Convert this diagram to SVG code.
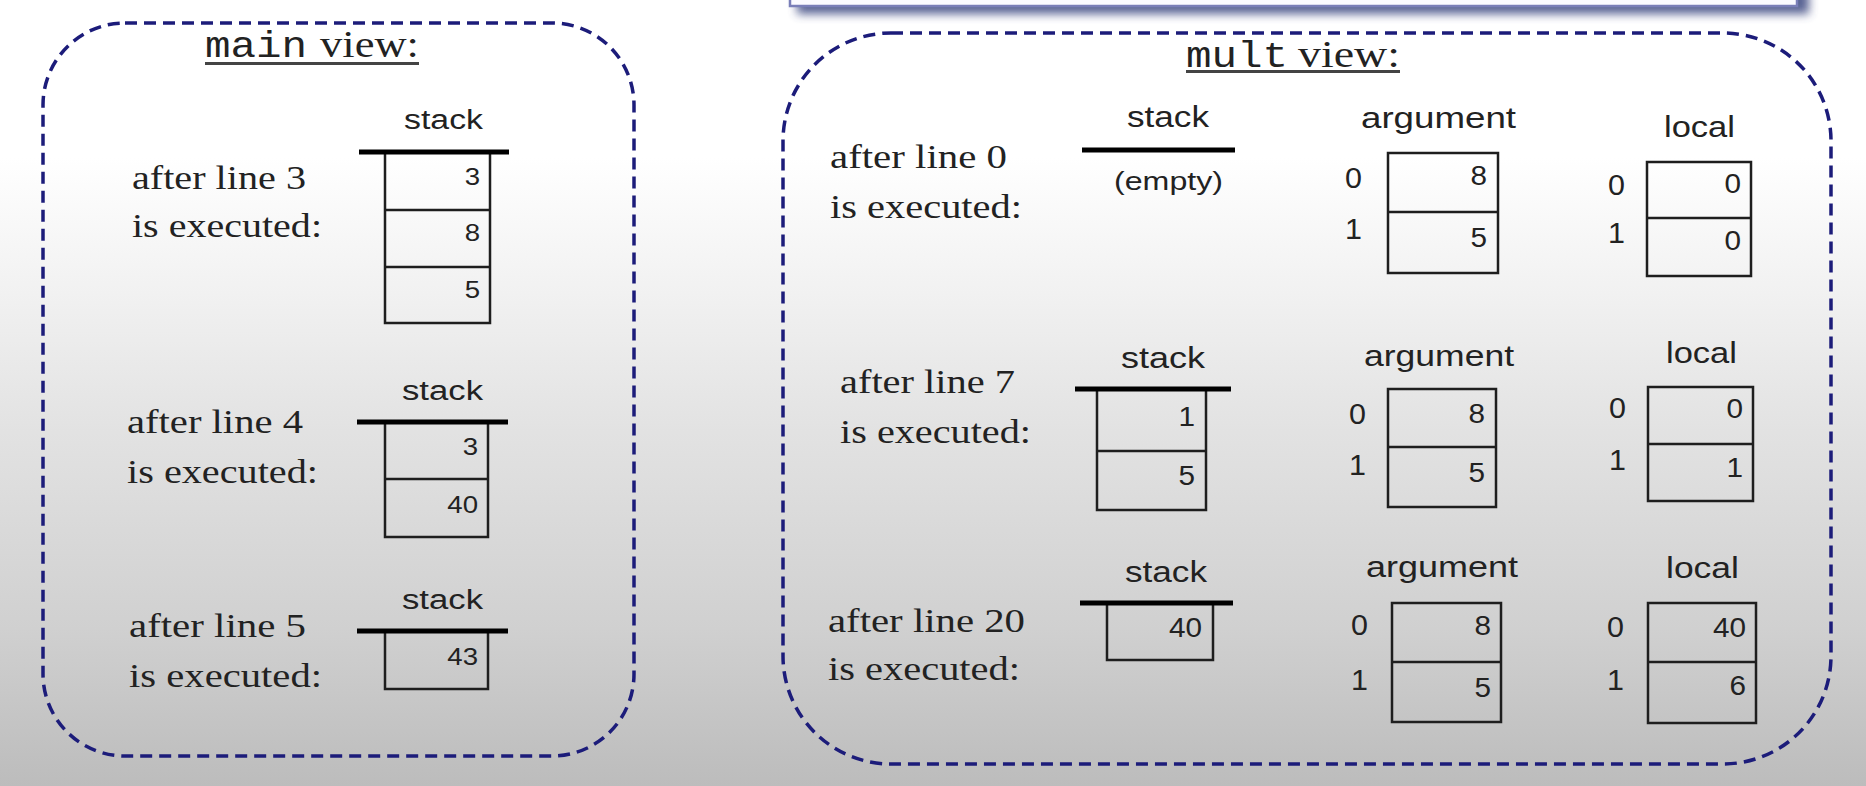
<svg xmlns="http://www.w3.org/2000/svg" width="1866" height="786" viewBox="0 0 1866 786">
<defs>
<linearGradient id="bg" x1="0" y1="0" x2="0" y2="1">
<stop offset="0" stop-color="#ffffff"/>
<stop offset="0.2" stop-color="#ffffff"/>
<stop offset="0.35" stop-color="#f3f3f3"/>
<stop offset="0.55" stop-color="#e2e2e2"/>
<stop offset="0.8" stop-color="#d0d0d0"/>
<stop offset="1" stop-color="#bcbcbc"/>
</linearGradient>
<filter id="blur" x="-5%" y="-100%" width="110%" height="300%">
<feGaussianBlur stdDeviation="5"/>
</filter>
<style>
.sf{font-family:"Liberation Serif","Times New Roman",serif;font-size:34px;fill:#222}
.ss{font-family:"Liberation Sans",Arial,sans-serif;fill:#222}
.lm{font-size:27px}
.lx{font-size:29px}
.dm{font-family:"Liberation Sans",Arial,sans-serif;font-size:24px;fill:#222;text-anchor:end}
.dx{font-family:"Liberation Sans",Arial,sans-serif;font-size:27px;fill:#222;text-anchor:end}
.ix{font-family:"Liberation Sans",Arial,sans-serif;font-size:29px;fill:#222}
.mono{font-family:"Liberation Mono","DejaVu Sans Mono",monospace;font-size:36px;fill:#222}
.ttl{font-family:"Liberation Serif","Times New Roman",serif;font-size:37px;fill:#222}
.cell{fill:none;stroke:#1e1e1e;stroke-width:2.5}
.bar{stroke:#000;stroke-width:5}
.ul{stroke:#444;stroke-width:3}
.frame{fill:none;stroke:#1c1c7a;stroke-width:3.5;stroke-dasharray:12 7}
</style>
</defs>
<rect x="0" y="0" width="1866" height="786" fill="url(#bg)"/>

<g id="header">
<rect x="797" y="-30" width="1012" height="44" fill="#3c4a82" opacity="0.85" filter="url(#blur)"/>
<rect x="790" y="-30" width="1007" height="36" fill="#fbfbff" stroke="#7a7fb8" stroke-width="2.5"/>
</g>

<g id="main-view">
<rect class="frame" x="43" y="23" width="591" height="733" rx="82" ry="82"/>
<text class="mono" x="205" y="57" textLength="102" lengthAdjust="spacingAndGlyphs">main</text>
<text class="ttl" x="320" y="57" textLength="99" lengthAdjust="spacingAndGlyphs">view:</text>
<line class="ul" x1="205" y1="63.5" x2="419" y2="63.5"/>
</g>

<g id="main-after-line-3">
<text class="sf" x="132" y="189" textLength="174" lengthAdjust="spacingAndGlyphs">after line 3</text>
<text class="sf" x="132" y="237" textLength="190" lengthAdjust="spacingAndGlyphs">is executed:</text>
<text class="ss lm" x="404" y="129" textLength="79" lengthAdjust="spacingAndGlyphs">stack</text>
<rect class="cell" x="385" y="152" width="105" height="171"/>
<line class="cell" x1="385" y1="210" x2="490" y2="210"/>
<line class="cell" x1="385" y1="267" x2="490" y2="267"/>
<line class="bar" x1="359" y1="152" x2="509" y2="152"/>
<text class="dm" transform="translate(480,185) scale(1.15,1)">3</text>
<text class="dm" transform="translate(480,241) scale(1.15,1)">8</text>
<text class="dm" transform="translate(480,298) scale(1.15,1)">5</text>
</g>

<g id="main-after-line-4">
<text class="sf" x="127" y="433" textLength="176" lengthAdjust="spacingAndGlyphs">after line 4</text>
<text class="sf" x="127" y="483" textLength="191" lengthAdjust="spacingAndGlyphs">is executed:</text>
<text class="ss lm" x="402" y="400" textLength="81" lengthAdjust="spacingAndGlyphs">stack</text>
<rect class="cell" x="385" y="422" width="103" height="115"/>
<line class="cell" x1="385" y1="479" x2="488" y2="479"/>
<line class="bar" x1="357" y1="422" x2="508" y2="422"/>
<text class="dm" transform="translate(478,455) scale(1.15,1)">3</text>
<text class="dm" transform="translate(478,513) scale(1.15,1)">40</text>
</g>

<g id="main-after-line-5">
<text class="sf" x="129" y="637" textLength="177" lengthAdjust="spacingAndGlyphs">after line 5</text>
<text class="sf" x="129" y="687" textLength="193" lengthAdjust="spacingAndGlyphs">is executed:</text>
<text class="ss lm" x="402" y="609" textLength="81" lengthAdjust="spacingAndGlyphs">stack</text>
<rect class="cell" x="385" y="631" width="103" height="58"/>
<line class="bar" x1="357" y1="631" x2="508" y2="631"/>
<text class="dm" transform="translate(478,665) scale(1.15,1)">43</text>
</g>

<g id="mult-view">
<rect class="frame" x="783" y="33" width="1048" height="731" rx="108" ry="108"/>
<text class="mono" x="1186" y="67" textLength="102" lengthAdjust="spacingAndGlyphs">mult</text>
<text class="ttl" x="1298" y="67" textLength="102" lengthAdjust="spacingAndGlyphs">view:</text>
<line class="ul" x1="1186" y1="71.5" x2="1400" y2="71.5"/>
</g>

<g id="mult-after-line-0">
<text class="sf" x="830" y="168" textLength="177" lengthAdjust="spacingAndGlyphs">after line 0</text>
<text class="sf" x="830" y="218" textLength="192" lengthAdjust="spacingAndGlyphs">is executed:</text>
<text class="ss lx" x="1127" y="127" textLength="82" lengthAdjust="spacingAndGlyphs">stack</text>
<line class="bar" x1="1082" y1="150" x2="1235" y2="150"/>
<text class="ss" style="font-size:25px" x="1114" y="190" textLength="109" lengthAdjust="spacingAndGlyphs">(empty)</text>
<text class="ss lx" x="1361" y="128" textLength="155" lengthAdjust="spacingAndGlyphs">argument</text>
<rect class="cell" x="1388" y="153" width="110" height="120"/>
<line class="cell" x1="1388" y1="212" x2="1498" y2="212"/>
<text class="dx" transform="translate(1487,185) scale(1.1,1)">8</text>
<text class="dx" transform="translate(1487,247) scale(1.1,1)">5</text>
<text class="ix" transform="translate(1345,188) scale(1.05,1)">0</text>
<text class="ix" transform="translate(1345,239) scale(1.05,1)">1</text>
<text class="ss lx" x="1664" y="137" textLength="71" lengthAdjust="spacingAndGlyphs">local</text>
<rect class="cell" x="1647" y="162" width="104" height="114"/>
<line class="cell" x1="1647" y1="218" x2="1751" y2="218"/>
<text class="dx" transform="translate(1741,193) scale(1.1,1)">0</text>
<text class="dx" transform="translate(1741,250) scale(1.1,1)">0</text>
<text class="ix" transform="translate(1608,195) scale(1.05,1)">0</text>
<text class="ix" transform="translate(1608,243) scale(1.05,1)">1</text>
</g>

<g id="mult-after-line-7">
<text class="sf" x="840" y="393" textLength="175" lengthAdjust="spacingAndGlyphs">after line 7</text>
<text class="sf" x="840" y="443" textLength="191" lengthAdjust="spacingAndGlyphs">is executed:</text>
<text class="ss lx" x="1121" y="368" textLength="84" lengthAdjust="spacingAndGlyphs">stack</text>
<rect class="cell" x="1097" y="389" width="109" height="121"/>
<line class="cell" x1="1097" y1="451" x2="1206" y2="451"/>
<line class="bar" x1="1075" y1="389" x2="1231" y2="389"/>
<text class="dx" transform="translate(1195,426) scale(1.1,1)">1</text>
<text class="dx" transform="translate(1195,485) scale(1.1,1)">5</text>
<text class="ss lx" x="1364" y="366" textLength="150" lengthAdjust="spacingAndGlyphs">argument</text>
<rect class="cell" x="1388" y="389" width="108" height="118"/>
<line class="cell" x1="1388" y1="447" x2="1496" y2="447"/>
<text class="dx" transform="translate(1485,423) scale(1.1,1)">8</text>
<text class="dx" transform="translate(1485,482) scale(1.1,1)">5</text>
<text class="ix" transform="translate(1349,424) scale(1.05,1)">0</text>
<text class="ix" transform="translate(1349,475) scale(1.05,1)">1</text>
<text class="ss lx" x="1666" y="363" textLength="71" lengthAdjust="spacingAndGlyphs">local</text>
<rect class="cell" x="1648" y="387" width="105" height="114"/>
<line class="cell" x1="1648" y1="444" x2="1753" y2="444"/>
<text class="dx" transform="translate(1743,418) scale(1.1,1)">0</text>
<text class="dx" transform="translate(1743,477) scale(1.1,1)">1</text>
<text class="ix" transform="translate(1609,418) scale(1.05,1)">0</text>
<text class="ix" transform="translate(1609,470) scale(1.05,1)">1</text>
</g>

<g id="mult-after-line-20">
<text class="sf" x="828" y="632" textLength="197" lengthAdjust="spacingAndGlyphs">after line 20</text>
<text class="sf" x="828" y="680" textLength="192" lengthAdjust="spacingAndGlyphs">is executed:</text>
<text class="ss lx" x="1125" y="582" textLength="82" lengthAdjust="spacingAndGlyphs">stack</text>
<rect class="cell" x="1107" y="603" width="106" height="57"/>
<line class="bar" x1="1080" y1="603" x2="1233" y2="603"/>
<text class="dx" transform="translate(1202,637) scale(1.1,1)">40</text>
<text class="ss lx" x="1366" y="577" textLength="152" lengthAdjust="spacingAndGlyphs">argument</text>
<rect class="cell" x="1392" y="603" width="109" height="119"/>
<line class="cell" x1="1392" y1="662" x2="1501" y2="662"/>
<text class="dx" transform="translate(1491,635) scale(1.1,1)">8</text>
<text class="dx" transform="translate(1491,697) scale(1.1,1)">5</text>
<text class="ix" transform="translate(1351,635) scale(1.05,1)">0</text>
<text class="ix" transform="translate(1351,690) scale(1.05,1)">1</text>
<text class="ss lx" x="1666" y="578" textLength="73" lengthAdjust="spacingAndGlyphs">local</text>
<rect class="cell" x="1648" y="603" width="108" height="120"/>
<line class="cell" x1="1648" y1="662" x2="1756" y2="662"/>
<text class="dx" transform="translate(1746,637) scale(1.1,1)">40</text>
<text class="dx" transform="translate(1746,695) scale(1.1,1)">6</text>
<text class="ix" transform="translate(1607,637) scale(1.05,1)">0</text>
<text class="ix" transform="translate(1607,690) scale(1.05,1)">1</text>
</g>

<g id="connectors"/>
</svg>
